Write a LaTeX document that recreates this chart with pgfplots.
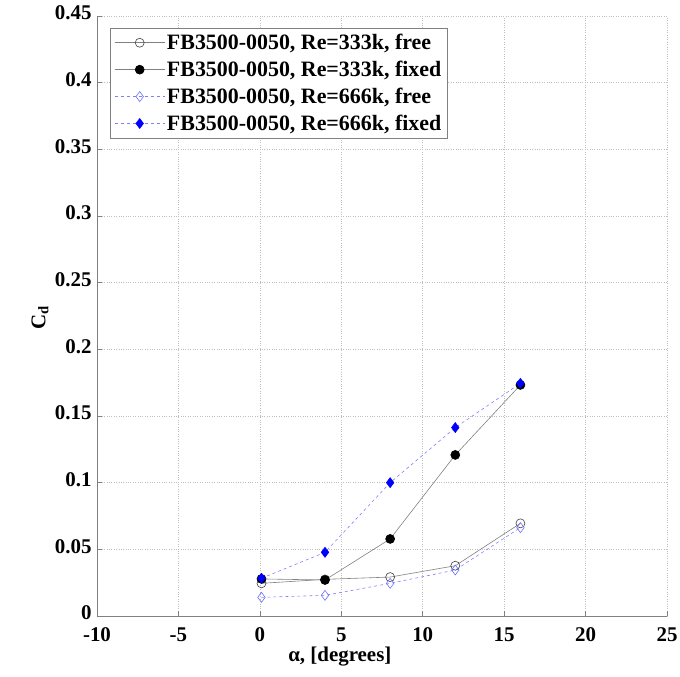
\documentclass[border=0pt]{standalone}
\usepackage{fontspec}
\setmainfont{Liberation Serif}
\usepackage{pgfplots}
\pgfplotsset{compat=1.18}

\definecolor{lineblk}{RGB}{128,128,128}
\definecolor{lineblu}{RGB}{128,128,255}
\definecolor{mkblu}{RGB}{0,0,255}
\definecolor{mkbluopen}{RGB}{110,110,255}

\begin{document}
\begin{tikzpicture}
\begin{axis}[
  scale only axis,
  width=570bp, height=600bp,
  xmin=-10, xmax=25, ymin=0, ymax=0.45,
  xtick={-10,-5,...,25},
  ytick={0,0.05,...,0.45},
  scaled y ticks=false,
  yticklabel style={/pgf/number format/fixed, /pgf/number format/precision=2},
  /pgf/number format/assume math mode=true,
  tick label style={font=\fontsize{21}{24}\selectfont\bfseries},
  label style={font=\fontsize{21}{24}\selectfont\bfseries},
  axis x line*=bottom, axis y line*=left,
  axis line style={gray, line width=0.8pt, -},
  tick style={gray, line width=0.6pt},
  tick align=inside, major tick length=5bp,
  grid=major, grid style={dotted, gray!50, line width=0.5pt},
  xticklabel style={yshift=-8bp},
  yticklabel style={xshift=-2bp, yshift=3bp},
  xlabel={α, [degrees]},
  ylabel={C\textsubscript{d}},
  xlabel style={at={(axis description cs:0.426,-0.068)}, anchor=center},
  ylabel style={at={(axis description cs:-0.1,0.497)}, anchor=center},
  legend style={at={(axis description cs:0.023,0.98)}, anchor=north west,
    draw=gray, line width=0.6pt, fill=white,
    font=\fontsize{22}{25}\selectfont\bfseries,
    row sep=6bp, inner sep=4bp},
  legend cell align=left,
  legend image code/.code={
    \draw[mark repeat=2,mark phase=2] plot coordinates {(0bp,0bp) (25bp,0bp) (50bp,0bp)};},
]
\addplot[lineblk, line width=0.6pt, mark=o, mark size=4.5bp,
  mark options={draw=black!75, line width=0.6pt}]
  coordinates {(0.1,0.0245)(4,0.0275)(8,0.0292)(12,0.0377)(16,0.0695)};
\addlegendentry{FB3500-0050, Re=333k, free}
\addplot[lineblk, line width=0.6pt, mark=*, mark size=4.5bp,
  mark options={draw=black, fill=black}]
  coordinates {(0.1,0.0278)(4,0.027)(8,0.0578)(12,0.1208)(16,0.1733)};
\addlegendentry{FB3500-0050, Re=333k, fixed}
\addplot[lineblu, line width=0.6pt, dashed, mark=diamond, mark size=5bp,
  mark options={solid, draw=mkbluopen, line width=0.6pt}]
  coordinates {(0.1,0.014)(4,0.0155)(8,0.0245)(12,0.0345)(16,0.0663)};
\addlegendentry{FB3500-0050, Re=666k, free}
\addplot[lineblu, line width=0.6pt, dashed, mark=diamond*, mark size=5bp,
  mark options={solid, draw=mkblu, fill=mkblu}]
  coordinates {(0.1,0.0283)(4,0.0478)(8,0.100)(12,0.1413)(16,0.1745)};
\addlegendentry{FB3500-0050, Re=666k, fixed}
\end{axis}
\pgfresetboundingbox
\path[use as bounding box] (-97bp,-61bp) rectangle (583bp,616bp);
\end{tikzpicture}
\end{document}
